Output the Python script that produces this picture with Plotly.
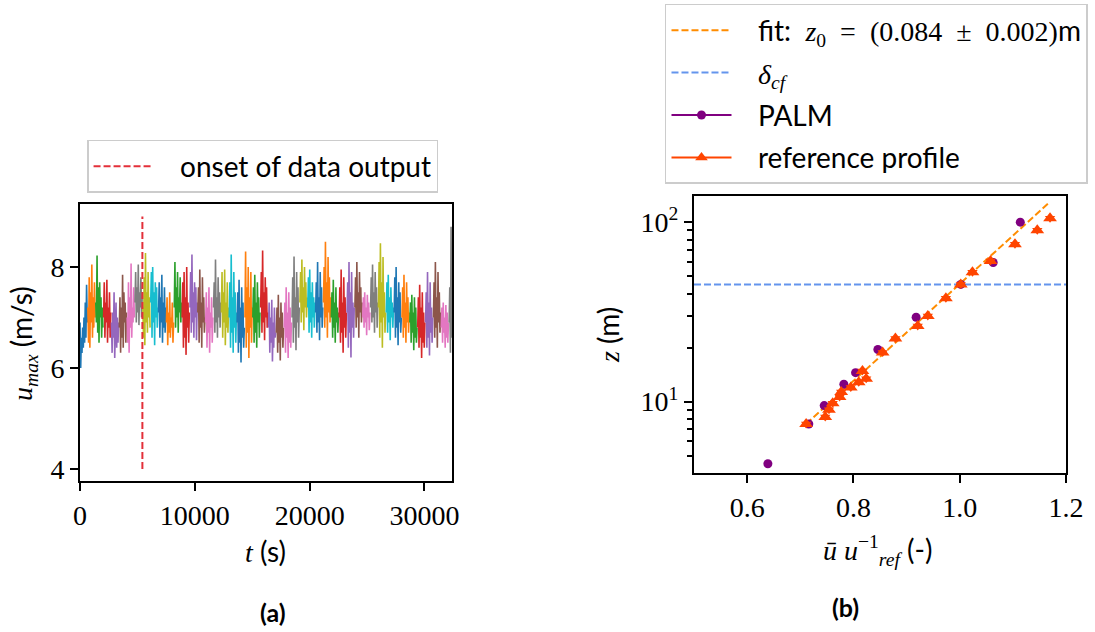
import plotly.graph_objects as go

# ---------------- data: panel (a) ----------------
seg_duration = 684.0          # s, length of each plotted chunk
seg_dt = 57.0                 # s, spacing of the values read per chunk
tab10 = ["#1f77b4", "#ff7f0e", "#2ca02c", "#d62728", "#9467bd",
         "#8c564b", "#e377c2", "#7f7f7f", "#bcbd22", "#17becf"]

u_max_segments = [
    [6.9, 6.0, 6.6, 6.3, 6.8, 6.4, 7.0, 6.5, 7.3, 6.6, 7.65, 6.9],
    [7.2, 6.5, 7.8, 6.4, 7.5, 6.9, 8.05, 6.6, 7.4, 6.8, 7.7, 7.0],
    [7.3, 6.9, 8.23, 6.7, 7.6, 6.5, 7.7, 7.0, 7.4, 6.6, 7.2, 6.8],
    [7.0, 7.7, 6.6, 7.3, 6.9, 7.75, 6.5, 7.2, 6.8, 7.5, 6.6, 7.1],
    [6.9, 6.3, 7.1, 6.6, 7.5, 6.2, 6.8, 7.3, 6.4, 7.0, 6.5, 6.9],
    [6.8, 7.4, 6.3, 7.2, 6.6, 7.85, 6.4, 7.5, 6.9, 7.3, 6.5, 7.1],
    [7.0, 6.5, 7.7, 6.3, 7.4, 6.8, 8.07, 6.6, 7.2, 6.9, 7.6, 7.0],
    [7.3, 7.9, 6.9, 7.6, 7.1, 8.05, 6.85, 7.5, 7.2, 7.8, 7.0, 7.4],
    [7.2, 6.6, 7.8, 6.45, 8.28, 6.9, 7.5, 6.7, 7.9, 7.0, 7.4, 6.8],
    [7.3, 7.9, 6.6, 8.0, 6.9, 7.5, 6.45, 7.7, 7.0, 7.6, 6.8, 7.2],
    [7.1, 7.7, 6.6, 7.4, 6.9, 7.85, 6.5, 7.3, 6.8, 7.6, 6.7, 7.2],
    [6.9, 7.4, 6.45, 7.1, 6.7, 7.5, 6.6, 7.0, 6.8, 7.3, 6.5, 6.9],
    [7.2, 8.1, 6.8, 7.6, 7.0, 7.9, 6.7, 7.4, 7.1, 7.8, 6.9, 7.3],
    [7.0, 7.7, 6.4, 7.9, 6.6, 7.4, 6.26, 8.0, 6.8, 7.3, 6.5, 7.1],
    [7.2, 7.9, 6.7, 8.25, 6.9, 7.5, 6.6, 7.7, 7.0, 7.6, 6.55, 7.3],
    [7.1, 7.6, 6.5, 7.95, 6.8, 7.3, 6.4, 7.8, 6.9, 7.4, 6.7, 7.0],
    [6.9, 7.5, 6.4, 7.2, 6.7, 7.6, 6.3, 7.1, 6.8, 7.4, 6.5, 7.0],
    [7.2, 7.7, 6.7, 8.15, 6.9, 7.4, 6.6, 7.8, 7.0, 7.5, 6.8, 7.3],
    [7.1, 7.9, 6.6, 7.5, 6.9, 7.95, 6.45, 7.3, 6.8, 7.7, 6.7, 7.2],
    [7.0, 7.7, 6.4, 8.25, 6.7, 7.4, 6.3, 7.9, 6.8, 7.5, 6.5, 7.1],
    [6.9, 7.5, 6.3, 7.75, 6.5, 7.2, 6.11, 7.6, 6.6, 7.3, 6.4, 6.8],
    [7.0, 8.31, 6.4, 7.6, 6.7, 8.0, 6.2, 7.4, 6.8, 7.9, 6.5, 7.2],
    [7.0, 7.6, 6.5, 7.85, 6.7, 7.3, 6.4, 7.7, 6.9, 7.4, 6.6, 7.1],
    [7.2, 7.9, 6.7, 8.33, 6.9, 7.5, 6.55, 7.8, 7.0, 7.6, 6.8, 7.1],
    [6.8, 7.3, 6.3, 7.0, 6.5, 7.35, 6.13, 6.9, 6.4, 7.2, 6.6, 6.7],
    [6.7, 7.2, 6.3, 7.45, 6.5, 7.0, 6.15, 7.3, 6.6, 7.1, 6.4, 6.8],
    [6.8, 7.3, 6.3, 7.6, 6.6, 7.1, 6.2, 7.5, 6.5, 7.2, 6.4, 6.9],
    [7.0, 7.8, 6.5, 8.21, 6.8, 7.4, 6.35, 7.9, 6.9, 7.6, 6.6, 7.2],
    [7.3, 7.9, 6.9, 8.15, 7.1, 7.6, 6.75, 8.0, 7.2, 7.7, 7.0, 7.4],
    [7.2, 7.8, 6.7, 7.95, 6.9, 7.5, 6.6, 7.7, 7.0, 7.4, 6.8, 7.3],
    [7.1, 7.7, 6.7, 8.1, 6.9, 7.4, 6.55, 7.9, 7.0, 7.6, 6.8, 7.2],
    [7.3, 8.0, 6.8, 8.5, 7.0, 7.7, 6.6, 8.2, 7.1, 7.8, 6.9, 7.4],
    [7.0, 7.5, 6.6, 7.75, 6.8, 7.3, 6.5, 7.6, 6.9, 7.2, 6.7, 7.1],
    [7.0, 7.6, 6.5, 7.95, 6.7, 7.3, 6.3, 7.8, 6.8, 7.4, 6.6, 7.1],
    [7.1, 7.7, 6.4, 8.1, 6.7, 7.5, 6.21, 7.9, 6.8, 7.3, 6.6, 7.2],
    [7.2, 7.8, 6.8, 8.1, 7.0, 7.5, 6.6, 7.9, 7.1, 7.6, 6.9, 7.3],
    [7.0, 7.4, 6.8, 7.5, 6.9, 7.2, 6.65, 7.45, 7.0, 7.3, 6.75, 7.1],
    [7.2, 7.8, 6.9, 8.05, 7.0, 7.5, 6.7, 7.9, 7.1, 7.6, 6.8, 7.3],
    [7.2, 8.1, 6.6, 8.47, 6.9, 7.7, 6.4, 8.2, 7.0, 7.5, 6.7, 7.1],
    [7.1, 7.7, 6.7, 7.85, 6.9, 7.4, 6.55, 7.6, 7.0, 7.3, 6.8, 7.2],
    [7.1, 7.8, 6.6, 8.0, 6.8, 7.4, 6.45, 7.7, 6.9, 7.5, 6.7, 7.0],
    [7.0, 7.6, 6.6, 7.85, 6.8, 7.3, 6.5, 7.7, 6.9, 7.4, 6.7, 7.1],
    [6.9, 7.3, 6.5, 7.45, 6.7, 7.1, 6.35, 7.4, 6.6, 7.2, 6.5, 6.8],
    [6.8, 7.4, 6.4, 7.65, 6.6, 7.2, 6.2, 7.5, 6.5, 7.1, 6.4, 6.9],
    [6.9, 7.5, 6.4, 7.9, 6.6, 7.3, 6.25, 7.7, 6.7, 7.2, 6.5, 7.0],
    [7.0, 7.7, 6.6, 8.1, 6.8, 7.4, 6.4, 7.9, 6.9, 7.5, 6.7, 7.1],
    [6.8, 7.2, 6.5, 7.3, 6.7, 7.0, 6.4, 7.25, 6.6, 7.1, 6.5, 6.9],
    [6.9, 7.6, 6.3, 8.8, 6.6],
]
onset_t = 5430.0
onset_u = [4.0, 9.0]
ta_ticks = [0, 10000, 20000, 30000]
ua_ticks = [4, 6, 8]

# ---------------- data: panel (b) ----------------
palm_u = [0.639, 0.716, 0.745, 0.782, 0.804, 0.846, 0.918, 1.002, 1.063, 1.114]
palm_z = [4.5, 7.5, 9.5, 12.5, 14.5, 19.5, 29.5, 45.0, 59.6, 100.0]

ref_u = [0.711, 0.747, 0.754, 0.761, 0.774, 0.777, 0.795, 0.810, 0.817, 0.824,
         0.855, 0.879, 0.921, 0.940, 0.974, 1.002, 1.024, 1.058, 1.104, 1.146, 1.170]
ref_z = [7.5, 8.2, 9.0, 9.8, 10.6, 11.3, 12.0, 12.8, 14.8, 13.4,
         18.8, 22.5, 26.4, 30.0, 37.7, 44.9, 52.6, 60.7, 75.4, 90.2, 105.0]

fit_u = [0.711, 1.170]
fit_z = [7.5, 130.0]
delta_cf = 45.0
xb_range = [0.5, 1.2]
ub_ticks = [0.6, 0.8, 1.0, 1.2]
zb_ticks = [10, 100]
zb_minor = [5, 6, 7, 8, 9, 20, 30, 40, 50, 60, 70, 80, 90]

SERIF = "Liberation Serif"
SANS = "Lato"
FS = 28
NB = "\u00a0"


def ser(s):
    return "<span style='font-family:Liberation Serif'>%s</span>" % s


fig = go.Figure()

# panel (a) time series chunks
for k, seg in enumerate(u_max_segments):
    t0 = k * seg_duration
    ts = [t0 + i * seg_dt for i in range(len(seg))]
    fig.add_trace(go.Scatter(x=ts, y=seg, mode="lines",
                             line=dict(color=tab10[k % 10], width=1.6),
                             showlegend=False, hoverinfo="skip",
                             xaxis="x", yaxis="y"))

fig.add_trace(go.Scatter(x=[onset_t, onset_t], y=onset_u, mode="lines",
                         line=dict(color="#e3303a", width=2, dash="7px,3px"),
                         name=NB * 3 + "onset of data output", legend="legend",
                         xaxis="x", yaxis="y"))

# panel (b)
fit_name = (NB * 3 + "fit:" + NB * 2 +
            ser("<i>z</i><sub>0</sub>" + NB * 2 + "=" + NB * 2 + "(0.084" +
                NB * 2 + "±" + NB * 2 + "0.002)") + "m")
fig.add_trace(go.Scatter(x=fit_u, y=fit_z, mode="lines",
                         line=dict(color="#ff8c00", width=2, dash="7px,3px"),
                         name=fit_name,
                         legend="legend2", legendgroup="g1", legendrank=1,
                         xaxis="x2", yaxis="y2"))
fig.add_trace(go.Scatter(x=xb_range, y=[delta_cf, delta_cf], mode="lines",
                         line=dict(color="#6495ed", width=2, dash="7px,3px"),
                         name=NB * 3 + ser("<i>δ</i><sub><i>cf</i></sub>"),
                         legend="legend2", legendgroup="g2", legendrank=2,
                         xaxis="x2", yaxis="y2"))
fig.add_trace(go.Scatter(x=palm_u, y=palm_z, mode="markers",
                         marker=dict(color="#800080", size=9, symbol="circle"),
                         showlegend=False, xaxis="x2", yaxis="y2"))
fig.add_trace(go.Scatter(x=ref_u, y=ref_z, mode="markers",
                         marker=dict(color="#ff4500", size=12, symbol="triangle-up"),
                         showlegend=False, xaxis="x2", yaxis="y2"))
fig.add_trace(go.Scatter(x=ref_u, y=ref_z, mode="markers",
                         marker=dict(color="#ff4500", size=9, symbol="triangle-down"),
                         showlegend=False, xaxis="x2", yaxis="y2"))
# legend entries (errorbar-style: line through marker)
fig.add_trace(go.Scatter(x=[None], y=[None], mode="lines+markers",
                         line=dict(color="#800080", width=2),
                         marker=dict(color="#800080", size=9, symbol="circle"),
                         name=NB * 3 + "PALM", legend="legend2", legendgroup="g3", legendrank=3,
                         xaxis="x2", yaxis="y2"))
fig.add_trace(go.Scatter(x=[None], y=[None], mode="lines+markers",
                         line=dict(color="#ff4500", width=2),
                         marker=dict(color="#ff4500", size=11, symbol="triangle-up"),
                         name=NB * 3 + "reference profile", legend="legend2", legendgroup="g4", legendrank=4,
                         xaxis="x2", yaxis="y2"))

axis_common = dict(showline=True, linecolor="black", linewidth=2, mirror=True,
                   ticks="outside", ticklen=8, tickwidth=2, tickcolor="black",
                   showgrid=False, zeroline=False, automargin=False,
                   tickfont=dict(family=SERIF, size=28, color="black"))

fig.update_layout(
    width=1095, height=632,
    margin=dict(l=0, r=0, t=0, b=0, autoexpand=False),
    paper_bgcolor="white", plot_bgcolor="white",
    font=dict(family=SERIF, size=FS, color="black"),
    xaxis=dict(domain=[0.0731, 0.4128], range=[0, 32400],
               tickvals=ta_ticks, ticktext=[ser(str(v)) for v in ta_ticks],
               anchor="y", **axis_common),
    yaxis=dict(domain=[0.2389, 0.6772], range=[3.76, 9.25],
               tickvals=ua_ticks, ticktext=[ser(str(v)) for v in ua_ticks],
               anchor="x", **axis_common),
    xaxis2=dict(domain=[0.6338, 0.9735], range=xb_range,
                tickvals=ub_ticks, ticktext=[ser("%.1f" % v) for v in ub_ticks],
                anchor="y2", **axis_common),
    yaxis2=dict(domain=[0.2516, 0.6899], type="log", range=[0.602, 2.146],
                tickvals=zb_ticks, ticktext=[ser("10<sup>1</sup>"), ser("10<sup>2</sup>")],
                minor=dict(ticks="outside", ticklen=5, tickwidth=1.5, tickcolor="black",
                           tickvals=zb_minor),
                anchor="x2", **axis_common),
    legend=dict(x=0.0795, y=0.7785, xanchor="left", yanchor="top",
                bordercolor="#cccccc", borderwidth=1.5, bgcolor="white",
                font=dict(family=SANS, size=FS, color="black"), itemwidth=60),
    legend2=dict(x=0.6073, y=0.9937, xanchor="left", yanchor="top",
                 bordercolor="#cccccc", borderwidth=1.5, bgcolor="white",
                 traceorder="grouped", tracegroupgap=3,
                 font=dict(family=SANS, size=FS, color="black"), itemwidth=60),
)

ann = [
    dict(text=ser("<i>t</i>") + " (s)", x=0.2429, y=0.1282, textangle=0),
    dict(text=ser("<i>u</i><sub><i>max</i></sub>") + " (m/s)",
         x=0.0210, y=0.4573, textangle=-90),
    dict(text=ser("<i>ū</i> <i>u</i><sup>−1</sup><sub><i>ref</i></sub>") + " (-)",
         x=0.8010, y=0.1297, textangle=0),
    dict(text=ser("<i>z</i>") + " (m)", x=0.5553, y=0.4699, textangle=-90),
    dict(text="<b>(a)</b>", x=0.2493, y=0.0316, textangle=0,
         font=dict(family=SANS, size=25, color="black")),
    dict(text="<b>(b)</b>", x=0.7717, y=0.0396, textangle=0,
         font=dict(family=SANS, size=25, color="black")),
]
for a in ann:
    a.setdefault("font", dict(family=SANS, size=FS, color="black"))
    a.update(xref="paper", yref="paper", showarrow=False, xanchor="center", yanchor="middle")
    fig.add_annotation(**a)

fig.write_html("out.html", config={"displayModeBar": False},
               post_script="document.body.style.margin='0px';")
